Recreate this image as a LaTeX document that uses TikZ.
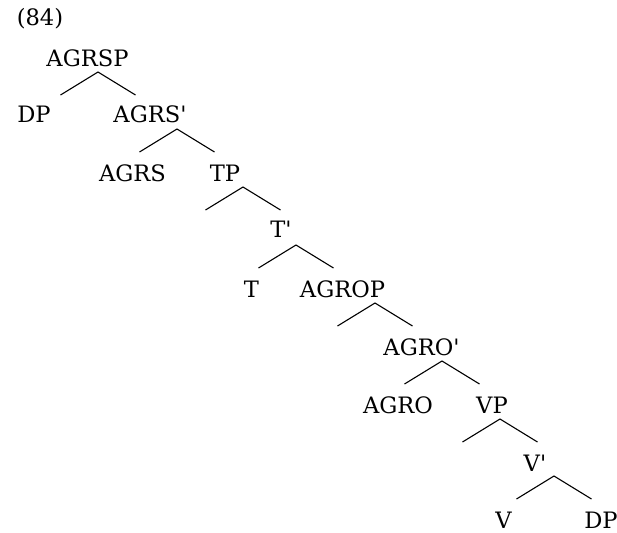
\documentclass[tikz,border=0pt]{standalone}
\usepackage{fontspec}
\setmainfont{DejaVu Serif}[Ligatures=TeXOff]

\begin{document}
\begin{tikzpicture}[x=0.5pt,y=-0.5pt,line width=0.55pt,
  every node/.style={anchor=base,inner sep=0pt,font=\fontsize{11.3}{13.6}\selectfont}]
\useasboundingbox (0,0) rectangle (617,532);

\node(N) at (40,25){(84)};

\node(A) at (87.5,66.5){AGRSP};
\node(B1) at (34,122){DP};
\node(B2) at (150,122){AGRS'};
\node(C1) at (132.5,181.5){AGRS};
\node(C2) at (225,181.5){TP};
\node(D) at (281,237){T'};
\node(E1) at (251.5,297){T};
\node(E2) at (342.5,297){AGROP};
\node(F) at (421.5,355){AGRO'};
\node(G1) at (398,413){AGRO};
\node(G2) at (492,413){VP};
\node(H) at (535,471){V'};
\node(I1) at (503.5,528){V};
\node(I2) at (601,528){DP};

% branches: top, left end, right end
\coordinate(pA) at (98,72);   \coordinate(lA) at (60.5,95);  \coordinate(rA) at (135.5,95);
\coordinate(pB) at (177,129); \coordinate(lB) at (139.5,152); \coordinate(rB) at (214.5,152);
\coordinate(pC) at (243,187); \coordinate(lC) at (205.5,210); \coordinate(rC) at (280.5,210);
\coordinate(pD) at (296,245); \coordinate(lD) at (258.5,268); \coordinate(rD) at (333.5,268);
\coordinate(pE) at (375,303); \coordinate(lE) at (337.5,326); \coordinate(rE) at (412.5,326);
\coordinate(pF) at (442,361); \coordinate(lF) at (404.5,384); \coordinate(rF) at (479.5,384);
\coordinate(pG) at (500,419); \coordinate(lG) at (462.5,442); \coordinate(rG) at (537.5,442);
\coordinate(pH) at (554,476); \coordinate(lH) at (516.5,499); \coordinate(rH) at (591.5,499);

\draw(lA)--(pA)--(rA);
\draw(lB)--(pB)--(rB);
\draw(lC)--(pC)--(rC);
\draw(lD)--(pD)--(rD);
\draw(lE)--(pE)--(rE);
\draw(lF)--(pF)--(rF);
\draw(lG)--(pG)--(rG);
\draw(lH)--(pH)--(rH);
\end{tikzpicture}
\end{document}
